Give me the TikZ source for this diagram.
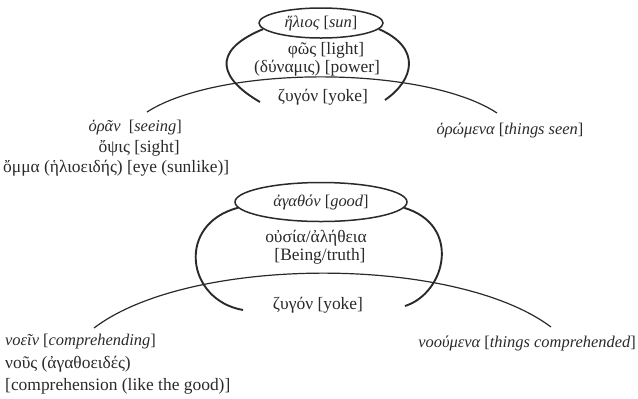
\documentclass[tikz,border=0pt]{standalone}
\usepackage{fontspec}
\setmainfont{Liberation Serif}
\usetikzlibrary{shapes.geometric}
\definecolor{ink}{HTML}{2A2A2A}
\newcommand{\mybrk}[1]{{\upshape[}#1{\upshape]}}
\begin{document}
\begin{tikzpicture}[x=1bp,y=-1bp,
  lbl/.style={inner sep=0pt, text=ink, font=\fontsize{17.5}{20}\selectfont},
  ilbl/.style={inner sep=0pt, text=ink, font=\fontsize{16.5}{19}\selectfont\itshape},
  oval/.style={draw=ink, ellipse, inner sep=0pt, line width=1.5bp, text=ink, font=\fontsize{16.5}{19}\selectfont\itshape},
  ucurve/.style={draw=ink, line width=1.9bp},
  hcurve/.style={draw=ink, line width=1.2bp}]
\useasboundingbox (0,0) rectangle (638,398);
% ---------- top diagram ----------
\node[oval, minimum width=124bp, minimum height=30bp] (sun) at (321,23) {ἥλιος \mybrk{sun}};
\node[lbl] (light) at (326,50) {φῶς [light]};
\node[lbl] (power) at (317,68) {(δύναμις) [power]};
\node[lbl] (yoke1) at (323,97) {ζυγόν [yoke]};
\node[ilbl, anchor=east] (seeing) at (182,128) {ὁρᾶν\ \ \mybrk{seeing}};
\node[lbl, anchor=east] (sight) at (180,148) {ὄψις [sight]};
\node[lbl, anchor=west] (eye) at (3,168) {ὄμμα (ἡλιοειδής) [eye (sunlike)]};
\node[ilbl] (seen) at (510,130) {ὁρώμενα \mybrk{things seen}};
\coordinate (tl) at (147,112);
\coordinate (tr) at (497,113);
\coordinate (ul1) at (260,102);
\coordinate (ur1) at (385,100);
\draw[hcurve] (tl) .. controls (220,65) and (424,65) .. (tr);
\draw[ucurve] (sun.186) .. controls (208,52) and (222,80) .. (ul1);
\draw[ucurve] (sun.-6) .. controls (422,48) and (414,80) .. (ur1);
% ---------- bottom diagram ----------
\node[oval, minimum width=172bp, minimum height=39bp] (good) at (321,202) {ἀγαθόν \mybrk{good}};
\node[lbl] (being) at (316,238) {οὐσία/ἀλήθεια};
\node[lbl] (truth) at (320,256) {[Being/truth]};
\node[lbl] (yoke2) at (318,305) {ζυγόν [yoke]};
\node[ilbl, anchor=west] (noein) at (5,342) {νοεῖν \mybrk{comprehending}};
\node[lbl, anchor=west] (nous) at (5,364) {νοῦς (ἀγαθοειδές)};
\node[lbl, anchor=west] (compr) at (5,386) {[comprehension (like the good)]};
\node[ilbl, anchor=east] (things) at (636,343) {νοούμενα \mybrk{things comprehended}};
\coordinate (bl) at (94,328);
\coordinate (br) at (551,327);
\coordinate (ul2) at (243,310);
\coordinate (ur2) at (405,306);
\draw[hcurve] (bl) .. controls (190,255) and (455,255) .. (br);
\draw[ucurve] (good.184) .. controls (176,224) and (186,300) .. (ul2);
\draw[ucurve] (good.-4) .. controls (462,225) and (446,293) .. (ur2);
\end{tikzpicture}
\end{document}
